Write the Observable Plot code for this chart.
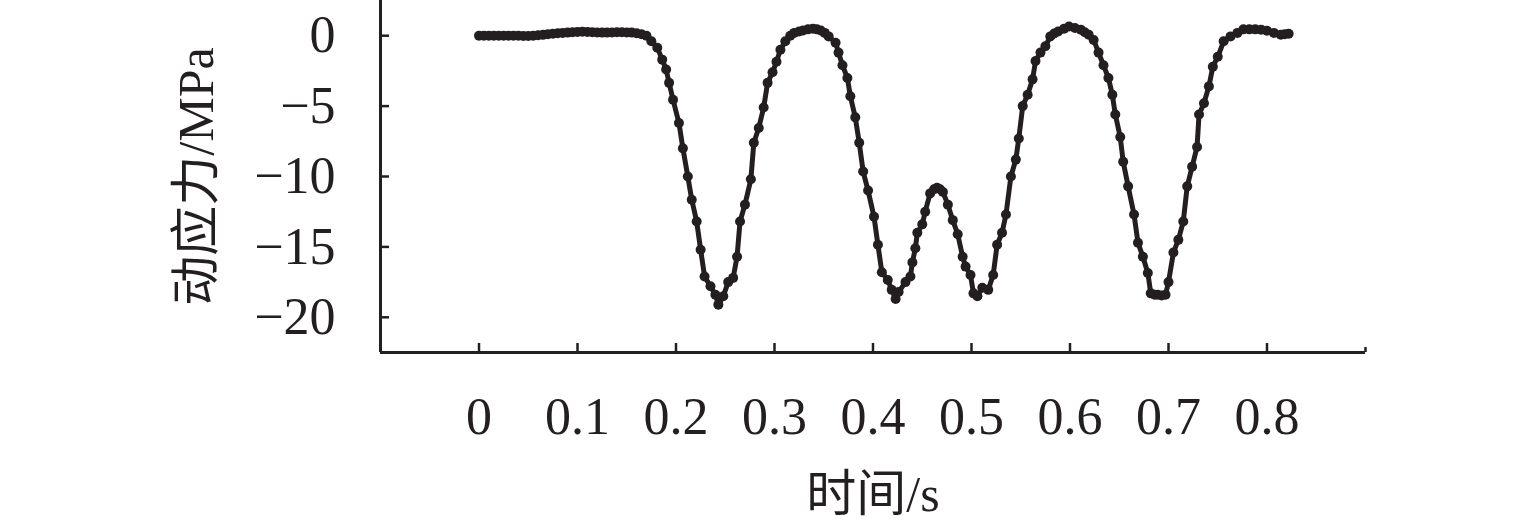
<!DOCTYPE html>
<html>
<head>
<meta charset="utf-8">
<script src="https://cdn.jsdelivr.net/npm/d3@7"></script>
<script src="https://cdn.jsdelivr.net/npm/@observablehq/plot@0.6"></script>
<style>
  html, body { margin: 0; padding: 0; background: #fff; }
</style>
</head>
<body>
<div id="chart"></div>
<script>
// ---- data ----
const xLabel = "时间/s";
const yLabel = "动应力/MPa";
const xTicks = [0, 0.1, 0.2, 0.3, 0.4, 0.5, 0.6, 0.7, 0.8];
const yTicks = [0, -5, -10, -15, -20];

const time = [
  0, 0.005, 0.01, 0.015, 0.02, 0.025, 0.03, 0.035, 0.04, 0.045, 0.05, 0.055, 0.06, 0.065, 0.07, 0.075,
  0.08, 0.085, 0.09, 0.095, 0.1, 0.105, 0.11, 0.115, 0.12, 0.125, 0.13, 0.135, 0.14, 0.145, 0.15, 0.155,
  0.16, 0.165, 0.17, 0.175, 0.181, 0.186, 0.19, 0.193, 0.197, 0.203, 0.207, 0.212, 0.216, 0.221, 0.225,
  0.229, 0.235, 0.24, 0.243, 0.248, 0.253, 0.258, 0.262, 0.265, 0.27, 0.276, 0.279, 0.284, 0.289, 0.293,
  0.298, 0.302, 0.306, 0.311, 0.316, 0.32, 0.325, 0.329, 0.334, 0.339, 0.343, 0.347, 0.351, 0.355, 0.362,
  0.365, 0.369, 0.374, 0.377, 0.382, 0.386, 0.39, 0.395, 0.401, 0.405, 0.409, 0.415, 0.419, 0.423, 0.426,
  0.433, 0.438, 0.44, 0.443, 0.445, 0.45, 0.453, 0.458, 0.462, 0.465, 0.468, 0.471, 0.476, 0.481, 0.486,
  0.491, 0.494, 0.499, 0.502, 0.506, 0.511, 0.517, 0.522, 0.526, 0.531, 0.535, 0.54, 0.545, 0.548, 0.552,
  0.557, 0.562, 0.565, 0.57, 0.575, 0.58, 0.584, 0.588, 0.594, 0.599, 0.605, 0.611, 0.615, 0.619, 0.624,
  0.629, 0.634, 0.639, 0.643, 0.646, 0.651, 0.654, 0.659, 0.665, 0.669, 0.674, 0.679, 0.682, 0.686, 0.689,
  0.693, 0.697, 0.7, 0.705, 0.71, 0.715, 0.719, 0.724, 0.729, 0.731, 0.736, 0.741, 0.745, 0.75, 0.756,
  0.763, 0.77, 0.776, 0.782, 0.788, 0.794, 0.8, 0.807, 0.814, 0.818, 0.822
];
const stress = [
  0, 0, 0, 0, 0, 0, 0, 0, 0, -0.02, -0.02, 0, 0.03, 0.06, 0.1, 0.14,
  0.18, 0.2, 0.22, 0.25, 0.27, 0.28, 0.27, 0.25, 0.23, 0.22, 0.22, 0.23, 0.24, 0.24, 0.23, 0.22,
  0.18, 0.1, 0, -0.4, -0.85, -1.7, -2.4, -3.35, -4.55, -6.2, -8.0, -10.0, -11.65, -13.2, -15.2,
  -17.1, -17.8, -18.4, -19.1, -18.5, -17.5, -17.2, -15.7, -13.2, -12.0, -10.2, -7.6, -6.55, -5.1, -3.35,
  -2.6, -1.85, -1.0, -0.4, 0, 0.2, 0.3, 0.37, 0.45, 0.5, 0.45, 0.37, 0.2, -0.05, -0.5,
  -1.2, -2.1, -3.0, -4.3, -5.8, -7.6, -9.65, -11.0, -12.85, -14.85, -16.8, -17.35, -18.05, -18.7, -18.2,
  -17.5, -17.1, -16.1, -15.1, -14.0, -13.4, -12.5, -11.2, -10.9, -10.8, -10.9, -11.1, -12.0, -13.1, -14.1,
  -15.7, -16.4, -17.0, -18.3, -18.5, -17.9, -18.05, -17.0, -14.85, -14.0, -12.7, -10.0, -8.8, -7.3, -5.0,
  -4.2, -3.1, -1.8, -1.2, -0.75, -0.05, 0.15, 0.3, 0.5, 0.65, 0.55, 0.43, 0.25, 0.07, -0.3,
  -1.2, -2.1, -3.0, -4.2, -5.6, -7.2, -8.95, -10.7, -12.7, -14.7, -15.7, -16.85, -18.3, -18.4, -18.4,
  -18.45, -18.4, -17.5, -15.4, -14.5, -13.2, -10.7, -9.3, -7.9, -5.6, -4.8, -3.6, -2.2, -1.5, -0.4,
  -0.05, 0.2, 0.45, 0.45, 0.45, 0.43, 0.35, 0.2, 0.07, 0.1, 0.14
];

const data = time.map((t, i) => ({t, v: stress[i]}));

const ink = "#231f20";
const W = 1535, H = 530;
const mT = 0, mB = 178, mL = 380, mR = 170;
const plotH = H - mT - mB, plotW = W - mL - mR;

const fmtY = d => d < 0 ? "\u2212" + Math.abs(d) : String(d);

const chart = Plot.plot({
  width: W,
  height: H,
  marginTop: mT,
  marginBottom: mB,
  marginLeft: mL,
  marginRight: mR,
  style: {fontFamily: "'Liberation Serif', 'Times New Roman', 'Noto Sans CJK SC', serif", fontSize: "52px", color: ink, background: "#fff"},
  x: {domain: [-0.1, 0.9]},
  y: {domain: [-22.5, 2.5]},
  marks: [
    Plot.axisX({ticks: xTicks, tickSize: 0, tickPadding: 45, tickFormat: d => String(d), label: null, fontSize: 52}),
    Plot.axisY({ticks: yTicks, tickSize: 0, tickPadding: 45, tickFormat: fmtY, label: null, fontSize: 52}),
    Plot.tickX(xTicks, {x: d => d, insetTop: plotH - 9, stroke: ink, strokeWidth: 2.5}),
    Plot.tickX([0.9], {x: d => d, insetTop: plotH - 5, stroke: ink, strokeWidth: 2.5}),
    Plot.tickY(yTicks, {y: d => d, insetRight: plotW - 9, stroke: ink, strokeWidth: 2.5}),
    Plot.ruleX([-0.1], {stroke: ink, strokeWidth: 3}),
    Plot.ruleY([-22.5], {stroke: ink, strokeWidth: 3}),
    Plot.line(data, {x: "t", y: "v", stroke: ink, strokeWidth: 5}),
    Plot.dot(data, {x: "t", y: "v", r: 5, fill: ink, stroke: "none"}),
    Plot.text([xLabel], {frameAnchor: "bottom", dy: 142, text: d => d, fontSize: 50, fill: ink, textAnchor: "middle", lineAnchor: "middle"}),
    Plot.text([yLabel], {frameAnchor: "left", dx: -184, rotate: -90, text: d => d, fontSize: 50, fill: ink, textAnchor: "middle", lineAnchor: "middle"})
  ]
});
document.getElementById("chart").appendChild(chart);
</script>
</body>
</html>
